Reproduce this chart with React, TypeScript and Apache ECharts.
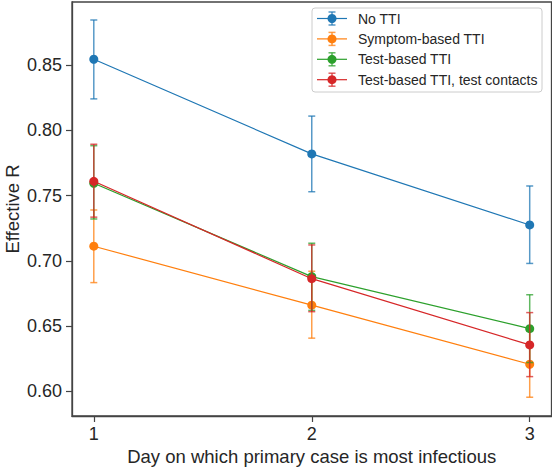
import React, { useEffect, useRef } from "react";
import * as echarts from "echarts";

const days = [1, 2, 3];
const seriesNames = ["No TTI", "Symptom-based TTI", "Test-based TTI", "Test-based TTI, test contacts"];
const seriesColors = ["#1f77b4", "#ff7f0e", "#2ca02c", "#d62728"];

const noTTI = [0.8546, 0.782, 0.7275];
const noTTILow = [0.8242, 0.753, 0.698];
const noTTIHigh = [0.8847, 0.811, 0.7574];

const symptom = [0.7112, 0.666, 0.6207];
const symptomLow = [0.6833, 0.6407, 0.5954];
const symptomHigh = [0.739, 0.692, 0.646];

const testBased = [0.7595, 0.6879, 0.648];
const testBasedLow = [0.7321, 0.662, 0.622];
const testBasedHigh = [0.7883, 0.7135, 0.674];

const testContacts = [0.761, 0.6863, 0.6355];
const testContactsLow = [0.7335, 0.661, 0.6112];
const testContactsHigh = [0.7894, 0.7122, 0.6603];

const yTicks = [0.6, 0.65, 0.7, 0.75, 0.8, 0.85];
const xTicks = [1, 2, 3];

const FONT = "'Liberation Sans', Arial, Helvetica, sans-serif";
const TEXT = "#262626";
const SPINE = "#444444";

export default function App() {
  const ref = useRef<HTMLDivElement>(null);
  useEffect(() => {
    if (!ref.current) return;
    const chart = echarts.init(ref.current, null, { renderer: "svg" });
    const values = [noTTI, symptom, testBased, testContacts];
    const lows = [noTTILow, symptomLow, testBasedLow, testContactsLow];
    const highs = [noTTIHigh, symptomHigh, testBasedHigh, testContactsHigh];

    const series: any[] = [];
    seriesNames.forEach((name, i) => {
      const color = seriesColors[i];
      series.push({
        type: "custom",
        name: name + " err",
        z: 2 + i * 2,
        data: days.map((d, k) => [d, lows[i][k], highs[i][k]]),
        renderItem: (params: any, api: any) => {
          const x = api.value(0);
          const lo = api.coord([x, api.value(1)]);
          const hi = api.coord([x, api.value(2)]);
          const cap = 3.5;
          const style = { stroke: color, lineWidth: 1.5, opacity: 0.75 };
          return {
            type: "group",
            children: [
              { type: "line", shape: { x1: lo[0], y1: lo[1], x2: hi[0], y2: hi[1] }, style },
              { type: "line", shape: { x1: lo[0] - cap, y1: lo[1], x2: lo[0] + cap, y2: lo[1] }, style },
              { type: "line", shape: { x1: hi[0] - cap, y1: hi[1], x2: hi[0] + cap, y2: hi[1] }, style },
            ],
          };
        },
        silent: true,
      });
      series.push({
        type: "line",
        name,
        z: 3 + i * 2,
        data: days.map((d, k) => [d, values[i][k]]),
        symbol: "circle",
        symbolSize: 9,
        showSymbol: true,
        lineStyle: { color, width: 1.2 },
        itemStyle: { color, opacity: 1 },
        silent: true,
      });
    });

    const lgX = 312;
    const lgY = 8;
    const rowH = 20.4;
    const legendChildren: any[] = [
      {
        type: "rect",
        shape: { x: lgX, y: lgY, width: 230, height: 84, r: 3 },
        style: { fill: "rgba(255,255,255,0.85)", stroke: "#cccccc", lineWidth: 1 },
      },
    ];
    seriesNames.forEach((name, i) => {
      const cy = lgY + 10.5 + i * rowH;
      const color = seriesColors[i];
      const st = { stroke: color, lineWidth: 1.5, opacity: 0.75 };
      legendChildren.push(
        { type: "line", shape: { x1: 317, y1: cy, x2: 347, y2: cy }, style: { stroke: color, lineWidth: 1.2 } },
        { type: "line", shape: { x1: 332, y1: cy - 6.5, x2: 332, y2: cy + 6.5 }, style: st },
        { type: "line", shape: { x1: 328.5, y1: cy - 6.5, x2: 335.5, y2: cy - 6.5 }, style: st },
        { type: "line", shape: { x1: 328.5, y1: cy + 6.5, x2: 335.5, y2: cy + 6.5 }, style: st },
        { type: "circle", shape: { cx: 332, cy, r: 4.5 }, style: { fill: color } },
        {
          type: "text",
          x: 358,
          y: cy,
          style: { text: name, fill: TEXT, font: `14px ${FONT}`, textVerticalAlign: "middle" },
        }
      );
    });

    chart.setOption({
      animation: false,
      backgroundColor: "#ffffff",
      textStyle: { fontFamily: FONT, color: TEXT },
      grid: {
        left: 72,
        right: 0.5,
        top: 2,
        bottom: 54,
        containLabel: false,
        outerBoundsMode: "none",
        show: true,
        borderColor: SPINE,
        borderWidth: 1.3,
        backgroundColor: "transparent",
      },
      xAxis: {
        type: "value",
        min: 0.9,
        max: 3.1,
        name: "Day on which primary case is most infectious",
        nameLocation: "middle",
        nameGap: 31,
        nameMoveOverlap: false,
        nameTextStyle: { fontSize: 18.5, color: TEXT, fontFamily: FONT },
        axisLine: { show: true, lineStyle: { color: SPINE, width: 1.3 } },
        axisTick: { show: true, length: 6, lineStyle: { color: SPINE, width: 1.2 }, customValues: xTicks },
        axisLabel: {
          customValues: xTicks,
          fontSize: 18,
          color: TEXT,
          fontFamily: FONT,
          margin: 9,
          formatter: (v: number) => String(v),
        },
        splitLine: { show: false },
      },
      yAxis: {
        type: "value",
        min: 0.581,
        max: 0.8985,
        name: "Effective R",
        nameLocation: "middle",
        nameGap: 50,
        nameMoveOverlap: false,
        nameTextStyle: { fontSize: 18.5, color: TEXT, fontFamily: FONT },
        axisLine: { show: true, lineStyle: { color: SPINE, width: 1.3 } },
        axisTick: { show: true, length: 6, lineStyle: { color: SPINE, width: 1.2 }, customValues: yTicks },
        axisLabel: {
          customValues: yTicks,
          fontSize: 18,
          color: TEXT,
          fontFamily: FONT,
          margin: 10,
          formatter: (v: number) => v.toFixed(2),
        },
        splitLine: { show: false },
      },
      graphic: [{ type: "group", z: 100, children: legendChildren }],
      series,
    });
    return () => chart.dispose();
  }, []);
  return (
    <div
      ref={ref}
      style={{ position: "fixed", left: 0, top: 0, width: 552, height: 470, background: "#fff" }}
    />
  );
}
